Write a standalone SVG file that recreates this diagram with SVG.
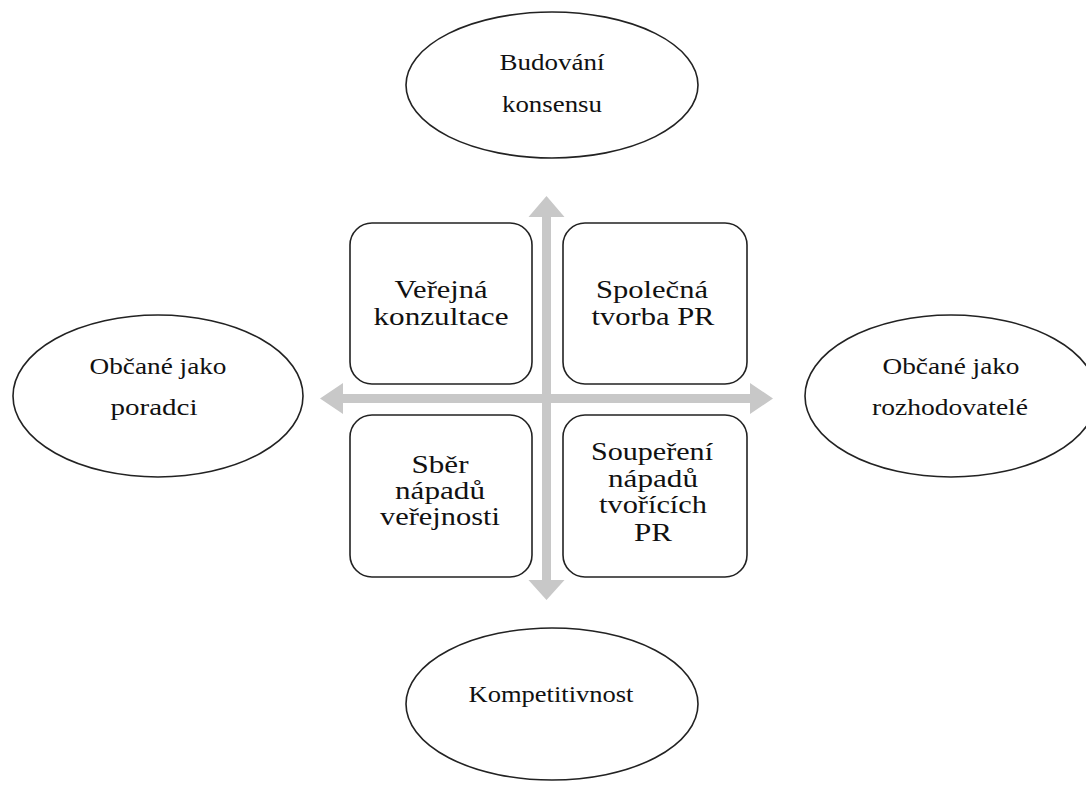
<svg xmlns="http://www.w3.org/2000/svg" width="1086" height="785" viewBox="0 0 1086 785">
  <style>
    .oval { fill: #ffffff; stroke: #222222; stroke-width: 1.6; }
    .box { fill: #ffffff; stroke: #222222; stroke-width: 1.6; }
    .axis { fill: #c8c8c8; }
    .t { font-family: "Liberation Serif", "Times New Roman", serif; fill: #111111; text-anchor: middle; }
    .ts { font-size: 24px; }
    .tb { font-size: 26px; }
  </style>
  <rect width="1086" height="785" fill="#ffffff"/>

  <!-- axes: double-headed block arrows -->
  <g id="connectors">
    <polygon class="axis" points="546.5,196 564.5,217 551,217 551,580 564.5,580 546.5,600 528.5,580 542,580 542,217 528.5,217"/>
    <polygon class="axis" points="320,398.5 343,383 343,394 750,394 750,383 773,398.5 750,414 750,403 343,403 343,414"/>
  </g>

  <!-- outer ovals -->
  <g id="node-budovani">
    <ellipse class="oval" cx="552" cy="85" rx="146" ry="73"/>
    <text class="t ts" x="552" y="70" textLength="105" lengthAdjust="spacingAndGlyphs">Budování</text>
    <text class="t ts" x="552" y="112" textLength="100" lengthAdjust="spacingAndGlyphs">konsensu</text>
  </g>
  <g id="node-poradci">
    <ellipse class="oval" cx="158" cy="396" rx="145" ry="81"/>
    <text class="t ts" x="158" y="374" textLength="137" lengthAdjust="spacingAndGlyphs">Občané jako</text>
    <text class="t ts" x="154" y="415" textLength="87" lengthAdjust="spacingAndGlyphs">poradci</text>
  </g>
  <g id="node-rozhodovatele">
    <ellipse class="oval" cx="951" cy="396" rx="146" ry="81"/>
    <text class="t ts" x="951" y="374" textLength="137" lengthAdjust="spacingAndGlyphs">Občané jako</text>
    <text class="t ts" x="950" y="415" textLength="156" lengthAdjust="spacingAndGlyphs">rozhodovatelé</text>
  </g>
  <g id="node-kompetitivnost">
    <ellipse class="oval" cx="552" cy="704" rx="146" ry="76"/>
    <text class="t ts" x="551" y="702" textLength="165" lengthAdjust="spacingAndGlyphs">Kompetitivnost</text>
  </g>

  <!-- quadrant boxes -->
  <g id="node-verejna-konzultace">
    <rect class="box" x="350" y="223" width="182" height="161" rx="22"/>
    <text class="t tb" x="441" y="298" textLength="93" lengthAdjust="spacingAndGlyphs">Veřejná</text>
    <text class="t tb" x="441" y="325" textLength="135" lengthAdjust="spacingAndGlyphs">konzultace</text>
  </g>
  <g id="node-spolecna-tvorba">
    <rect class="box" x="563" y="223" width="184" height="161" rx="22"/>
    <text class="t tb" x="652" y="298" textLength="112" lengthAdjust="spacingAndGlyphs">Společná</text>
    <text class="t tb" x="653" y="325" textLength="123" lengthAdjust="spacingAndGlyphs">tvorba PR</text>
  </g>
  <g id="node-sber-napadu">
    <rect class="box" x="350" y="415" width="182" height="162" rx="22"/>
    <text class="t tb" x="440" y="473" textLength="57" lengthAdjust="spacingAndGlyphs">Sběr</text>
    <text class="t tb" x="440" y="499" textLength="90" lengthAdjust="spacingAndGlyphs">nápadů</text>
    <text class="t tb" x="440" y="525" textLength="120" lengthAdjust="spacingAndGlyphs">veřejnosti</text>
  </g>
  <g id="node-soupereni-napadu">
    <rect class="box" x="563" y="415" width="184" height="162" rx="22"/>
    <text class="t tb" x="652" y="460" textLength="122" lengthAdjust="spacingAndGlyphs">Soupeření</text>
    <text class="t tb" x="653" y="487" textLength="90" lengthAdjust="spacingAndGlyphs">nápadů</text>
    <text class="t tb" x="653" y="513" textLength="108" lengthAdjust="spacingAndGlyphs">tvořících</text>
    <text class="t tb" x="653" y="541" textLength="38" lengthAdjust="spacingAndGlyphs">PR</text>
  </g>
</svg>
